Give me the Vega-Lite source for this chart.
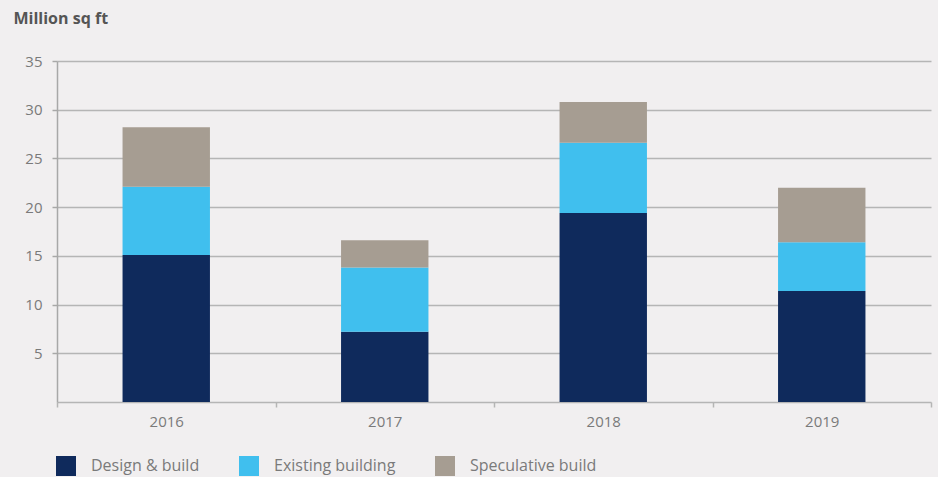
{
  "$schema": "https://vega.github.io/schema/vega-lite/v6.json",
  "width": 874,
  "height": 341,
  "autosize": {"type": "none"},
  "padding": {"left": 57, "top": 61, "right": 7, "bottom": 75},
  "background": "#f1eff0",
  "config": {
    "view": {"stroke": null},
    "font": "Open Sans"
  },
  "data": {
    "values": [
      {"year": "2016", "type": "Design & build", "k": 1, "value": 15.1},
      {"year": "2016", "type": "Existing building", "k": 2, "value": 7.0},
      {"year": "2016", "type": "Speculative build", "k": 3, "value": 6.1},
      {"year": "2017", "type": "Design & build", "k": 1, "value": 7.2},
      {"year": "2017", "type": "Existing building", "k": 2, "value": 6.6},
      {"year": "2017", "type": "Speculative build", "k": 3, "value": 2.8},
      {"year": "2018", "type": "Design & build", "k": 1, "value": 19.4},
      {"year": "2018", "type": "Existing building", "k": 2, "value": 7.2},
      {"year": "2018", "type": "Speculative build", "k": 3, "value": 4.2},
      {"year": "2019", "type": "Design & build", "k": 1, "value": 11.4},
      {"year": "2019", "type": "Existing building", "k": 2, "value": 5.0},
      {"year": "2019", "type": "Speculative build", "k": 3, "value": 5.6}
    ]
  },
  "mark": {"type": "bar", "width": {"band": 0.4}},
  "encoding": {
    "x": {
      "field": "year",
      "type": "nominal",
      "scale": {"paddingInner": 0, "paddingOuter": 0},
      "axis": {
        "title": null,
        "labelAngle": 0,
        "tickBand": "extent",
        "domainColor": "#b5b5b5",
        "domainWidth": 1.5,
        "tickColor": "#b5b5b5",
        "tickSize": 5,
        "tickWidth": 1.5,
        "labelColor": "#7a7a7a",
        "labelFontSize": 15,
        "labelPadding": 7
      }
    },
    "y": {
      "field": "value",
      "type": "quantitative",
      "stack": "zero",
      "scale": {"domain": [0, 35], "nice": false},
      "axis": {
        "values": [5, 10, 15, 20, 25, 30, 35],
        "title": "Million sq ft",
        "titleAngle": 0,
        "titleX": -44,
        "titleY": -43,
        "titleAlign": "left",
        "titleBaseline": "middle",
        "titleFontSize": 16,
        "titleFontWeight": "bold",
        "titleColor": "#555555",
        "grid": true,
        "gridColor": "#b5b5b5",
        "gridWidth": 1.5,
        "domainColor": "#a8a8a8",
        "domainWidth": 1.5,
        "tickColor": "#a8a8a8",
        "tickSize": 5,
        "tickWidth": 1.5,
        "labelColor": "#7a7a7a",
        "labelFontSize": 15,
        "labelPadding": 10
      }
    },
    "color": {
      "field": "type",
      "type": "nominal",
      "scale": {
        "domain": ["Design & build", "Existing building", "Speculative build"],
        "range": ["#0f2a5c", "#40bfee", "#a69d92"]
      },
      "legend": {
        "title": null,
        "orient": "none",
        "direction": "horizontal",
        "legendX": -1,
        "legendY": 395,
        "symbolType": "square",
        "symbolSize": 400,
        "symbolStrokeWidth": 0,
        "symbolOpacity": 1,
        "labelFontSize": 16,
        "labelColor": "#7a7a7a",
        "labelOffset": 15,
        "columnPadding": 39
      }
    },
    "order": {"field": "k", "type": "quantitative"}
  }
}
